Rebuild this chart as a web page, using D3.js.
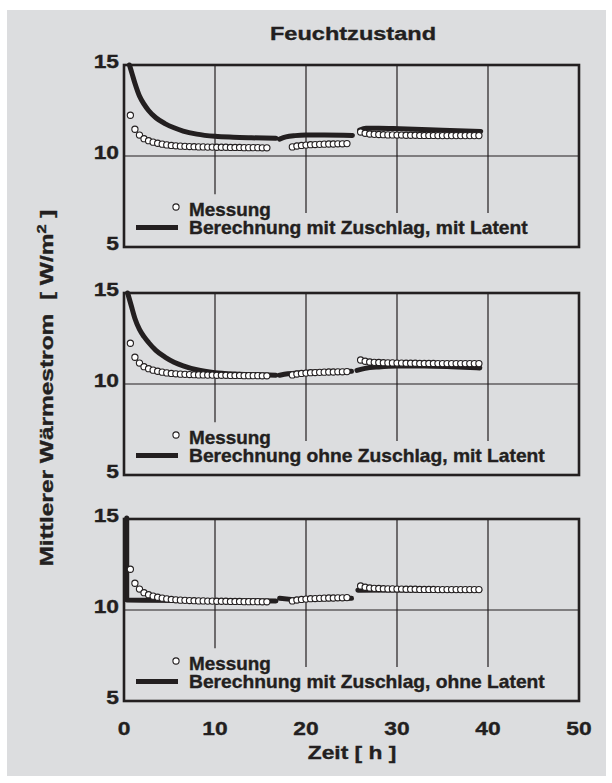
<!DOCTYPE html>
<html>
<head>
<meta charset="utf-8">
<script src="https://cdn.jsdelivr.net/npm/d3@7"></script>
<style>
  body { margin: 0; background: #fff; }
  svg text { font-family: "Liberation Sans", Arial, sans-serif; font-weight: bold; fill: #231f20; stroke: #231f20; stroke-width: 0.35px; }
</style>
</head>
<body>
<svg id="chart" width="612" height="783"></svg>
<script>
// Messung (measured) - same in all three panels
const messTime1 = [0.7,1.2,1.7,2.2,2.7,3.2,3.7,4.2,4.7,5.2,5.7,6.2,6.7,7.2,7.7,8.2,8.7,9.2,9.7,10.2,10.7,11.2,11.7,12.2,12.7,13.2,13.7,14.2,14.7,15.2,15.7];
const messVal1  = [12.24,11.47,11.15,10.95,10.84,10.76,10.70,10.65,10.61,10.58,10.56,10.54,10.53,10.52,10.51,10.50,10.50,10.49,10.49,10.48,10.48,10.48,10.47,10.47,10.47,10.46,10.46,10.46,10.46,10.45,10.45];
const messTime2 = [18.5,19,19.5,20,20.5,21,21.5,22,22.5,23,23.5,24,24.5];
const messVal2  = [10.50,10.55,10.58,10.60,10.62,10.63,10.64,10.65,10.66,10.66,10.67,10.67,10.68];
const messTime3 = [26,26.5,27,27.5,28,28.5,29,29.5,30,30.5,31,31.5,32,32.5,33,33.5,34,34.5,35,35.5,36,36.5,37,37.5,38,38.5,39];
const messVal3  = [11.32,11.25,11.21,11.19,11.18,11.17,11.16,11.16,11.15,11.15,11.14,11.14,11.14,11.13,11.13,11.13,11.13,11.12,11.12,11.12,11.12,11.12,11.12,11.12,11.12,11.12,11.12];

// Berechnung (calculated) curves, one list of segments per panel
const calcTop = [
  [[0.6,15],[0.9,14.5],[1.2,14.0],[1.7,13.3],[2.2,12.85],[2.7,12.5],[3.5,12.1],[4.5,11.78],[5.5,11.55],[6.5,11.37],[8,11.2],[10,11.08],[12,11.03],[14,11.0],[16.7,10.97]],
  [[17.1,10.93],[17.8,11.05],[18.8,11.12],[20,11.15],[22,11.15],[25.1,11.13]],
  [[25.9,11.42],[26.6,11.52],[28,11.53],[30.3,11.5],[35,11.42],[39.2,11.35]]
];
const calcMid = [
  [[0.4,15],[0.8,14.3],[1.2,13.6],[1.7,13.0],[2.2,12.6],[2.7,12.28],[3.5,11.85],[4.5,11.48],[5.5,11.2],[6.5,11.0],[8,10.78],[10,10.62],[12,10.55],[14,10.52],[16.7,10.48]],
  [[17.1,10.48],[18,10.56],[19.5,10.62],[21,10.66],[23,10.68],[25,10.7]],
  [[25.6,10.75],[26.5,10.86],[28,10.94],[30,10.99],[33,10.99],[36,10.95],[39.1,10.88]]
];
const calcBot = [
  [[0.3,15.05],[0.3,10.55],[2,10.53],[8,10.52],[16.7,10.5]],
  [[17.1,10.65],[18.6,10.57],[21,10.6],[25,10.64]],
  [[25.7,11.08],[30,11.1],[39.1,11.08]]
];

const legendLabels = [
  "Berechnung mit Zuschlag, mit Latent",
  "Berechnung ohne Zuschlag, mit Latent",
  "Berechnung mit Zuschlag, ohne Latent"
];
const xTicks = [0, 10, 20, 30, 40, 50];
const yTicks = [5, 10, 15];

const svg = d3.select("#chart");

// text in the original is a bit wider than Arial, so stretch it sideways
function place(sel, px, py, sx) {
  return sel.attr("transform", `translate(${px},${py}) scale(${sx},1)`);
}

svg.append("rect")
  .attr("x", 7).attr("y", 10)
  .attr("width", 599).attr("height", 766)
  .attr("fill", "#dcdddf");

const x = d3.scaleLinear().domain([0, 50]).range([124, 579]);
const panelTops = [65, 293, 519];
const panelH = 182;

const messung = [
  ...messTime1.map((t, i) => [t, messVal1[i]]),
  ...messTime2.map((t, i) => [t, messVal2[i]]),
  ...messTime3.map((t, i) => [t, messVal3[i]])
];
const calcs = [calcTop, calcMid, calcBot];

panelTops.forEach((top, p) => {
  const y = d3.scaleLinear().domain([5, 15]).range([top + panelH, top]);
  const g = svg.append("g");

  // horizontal grid at 10
  g.append("line")
    .attr("x1", x(0)).attr("x2", x(50))
    .attr("y1", y(10)).attr("y2", y(10))
    .attr("stroke", "#231f20").attr("stroke-width", 1.2);

  // vertical grid lines stop above the legend
  [10, 20, 30, 40].forEach(v => {
    g.append("line")
      .attr("x1", x(v)).attr("x2", x(v))
      .attr("y1", y(15)).attr("y2", v === 10 ? y(7.9) : y(6.87))
      .attr("stroke", "#231f20").attr("stroke-width", 1.2);
  });

  // calculated curves
  const line = d3.line()
    .x(d => x(d[0])).y(d => y(d[1]))
    .curve(p === 2 ? d3.curveLinear : d3.curveMonotoneX);
  g.selectAll("path.calc")
    .data(calcs[p])
    .enter().append("path")
    .attr("class", "calc")
    .attr("d", line)
    .attr("fill", "none")
    .attr("stroke", "#231f20")
    .attr("stroke-width", 5)
    .attr("stroke-linejoin", "round")
    .attr("stroke-linecap", "round");

  // measured points
  g.selectAll("circle.mess")
    .data(messung)
    .enter().append("circle")
    .attr("class", "mess")
    .attr("cx", d => x(d[0]))
    .attr("cy", d => y(d[1]))
    .attr("r", 3.1)
    .attr("fill", "#fff")
    .attr("stroke", "#231f20")
    .attr("stroke-width", 1.1);

  // frame
  g.append("rect")
    .attr("x", x(0)).attr("y", y(15))
    .attr("width", x(50) - x(0)).attr("height", y(5) - y(15))
    .attr("fill", "none")
    .attr("stroke", "#231f20").attr("stroke-width", 2.6);

  // y tick labels
  yTicks.forEach(d => {
    place(g.append("text"), 119, y(d) + 3, 1.2)
      .attr("text-anchor", "end")
      .style("font-size", "19px")
      .text(d);
  });

  // legend
  g.append("circle")
    .attr("cx", 176).attr("cy", top + 142)
    .attr("r", 3.1)
    .attr("fill", "#fff").attr("stroke", "#231f20").attr("stroke-width", 1.1);
  place(g.append("text"), 189, top + 150.5, 1.08)
    .style("font-size", "17.5px")
    .text("Messung");
  g.append("line")
    .attr("x1", 136).attr("x2", 178)
    .attr("y1", top + 162.5).attr("y2", top + 162.5)
    .attr("stroke", "#231f20").attr("stroke-width", 5);
  place(g.append("text"), 189, top + 168.5, 1.1)
    .style("font-size", "17.5px")
    .text(legendLabels[p]);
});

// x tick labels under the bottom panel
xTicks.forEach(d => {
  place(svg.append("text"), x(d), 735, 1.2)
    .attr("text-anchor", "middle")
    .style("font-size", "19px")
    .text(d);
});

place(svg.append("text"), 352, 759, 1.2)
  .attr("text-anchor", "middle")
  .style("font-size", "19px")
  .text("Zeit [ h ]");

place(svg.append("text"), 353, 40, 1.24)
  .attr("text-anchor", "middle")
  .style("font-size", "19px")
  .text("Feuchtzustand");

const yl = svg.append("text")
  .attr("transform", "translate(53,388) rotate(-90) scale(1.36,1)")
  .attr("text-anchor", "middle")
  .style("font-size", "18px")
  .style("white-space", "pre");
yl.append("tspan").text("Mittlerer Wärmestrom  [ W/m");
yl.append("tspan").attr("baseline-shift", "super").style("font-size", "12px").text("2");
yl.append("tspan").text(" ]");
</script>
</body>
</html>
